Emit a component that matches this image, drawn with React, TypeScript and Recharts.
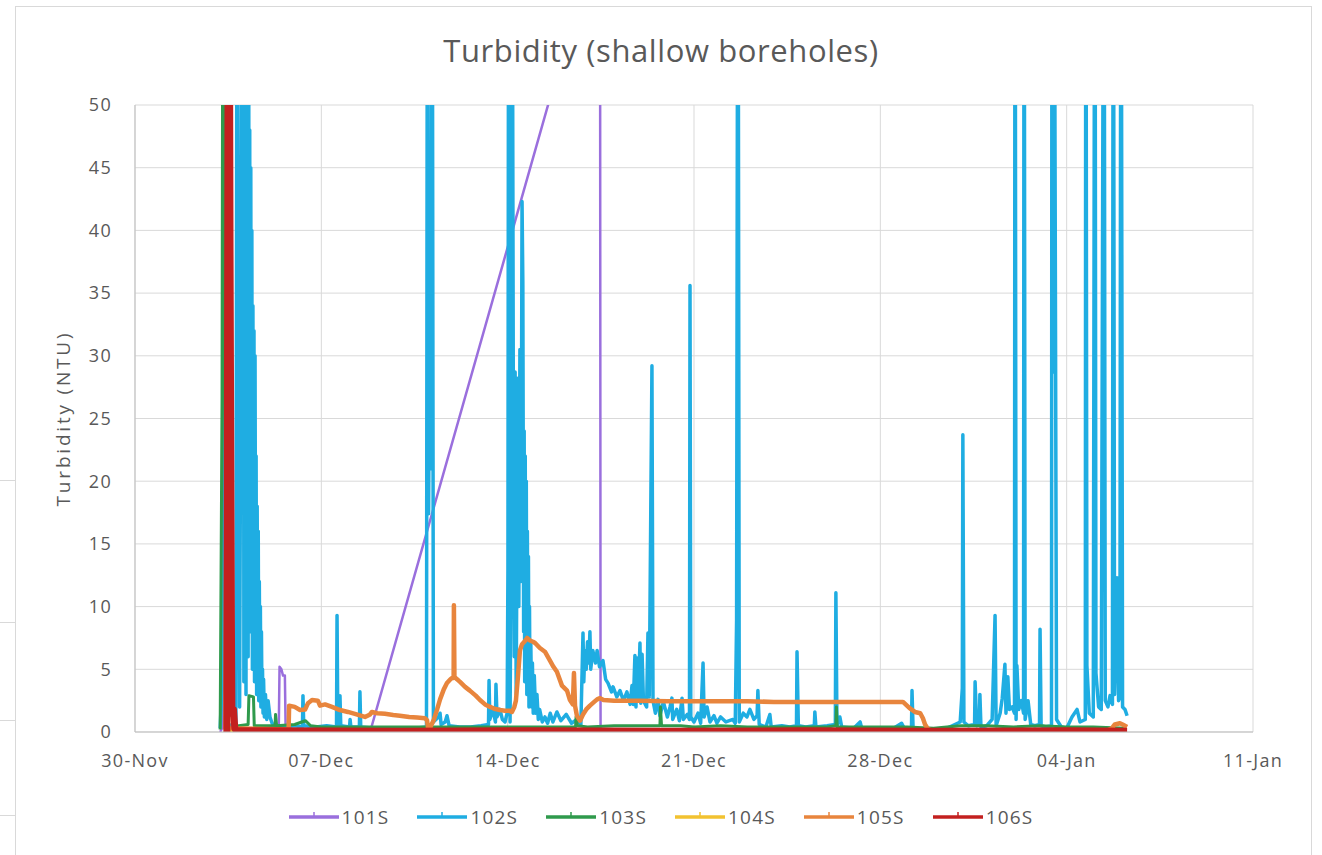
import React from 'react';
import { LineChart, Line, XAxis, YAxis, CartesianGrid, Label } from 'recharts';

// x = days since 30-Nov 00:00, y = turbidity (NTU)
const TICK_DAYS = [0, 7, 14, 21, 28, 35, 42];
const TICK_LABELS = ['30-Nov', '07-Dec', '14-Dec', '21-Dec', '28-Dec', '04-Jan', '11-Jan'];
const Y_TICKS = [0, 5, 10, 15, 20, 25, 30, 35, 40, 45, 50];
const SERIES_NAMES = ['101S', '102S', '103S', '104S', '105S', '106S'];

type Pt = [number, number];

const s101: Pt[] = [
  [3.2, 0], [3.27, 0.3], [3.31, 80], [3.38, 3.7], [3.42, 0.1], [3.8, 0.1],
  [5.4, 0.1], [5.43, 5.2], [5.5, 5.0], [5.56, 4.5], [5.63, 4.5], [5.66, 0.1],
  [8.83, 0], [17.47, 64.6], [17.49, 0.2], [20, 0.1], [30, 0.1], [37.2, 0.1],
];

const s102: Pt[] = [
  [3.2, 0.3], [3.27, 3.8], [3.34, 32.7], [3.4, 0.6], [3.79, 0.5],
  [3.84, 80], [3.9, 22], [3.93, 2], [3.96, 21], [3.99, 19.5], [4.03, 80],
  [4.05, 18], [4.07, 80], [4.09, 4], [4.11, 80], [4.13, 12], [4.15, 75], [4.17, 3],
  [4.19, 70], [4.21, 16], [4.23, 65], [4.25, 6], [4.27, 60], [4.29, 20], [4.31, 48],
  [4.33, 8], [4.35, 45], [4.37, 14], [4.39, 40], [4.41, 5], [4.43, 34], [4.45, 12],
  [4.47, 32], [4.49, 4], [4.51, 30], [4.53, 9], [4.55, 22], [4.57, 3], [4.59, 18],
  [4.61, 6], [4.63, 16], [4.65, 2.5], [4.67, 12], [4.69, 4], [4.71, 10], [4.73, 2],
  [4.75, 8], [4.77, 2.5], [4.79, 5], [4.81, 1.5], [4.83, 4.2], [4.86, 1.2], [4.9, 3],
  [4.95, 1], [5.0, 2.5], [5.07, 1.2], [5.15, 0.7], [5.26, 0.5],
  [5.6, 0.4], [6.0, 0.5], [6.29, 0.4], [6.31, 2.9], [6.34, 0.5], [6.8, 0.4], [7.2, 0.5],
  [7.57, 0.4], [7.59, 9.3], [7.62, 0.5], [7.68, 0.4], [7.7, 2.9], [7.73, 0.5],
  [8.06, 0.4], [8.08, 1.0], [8.11, 0.4], [8.43, 0.4], [8.45, 3.2], [8.48, 0.4],
  [9.0, 0.3], [9.5, 0.3], [10.0, 0.3], [10.5, 0.3], [10.95, 0.4],
  [10.99, 80], [11.03, 17.4], [11.06, 30.5], [11.09, 42], [11.13, 21], [11.16, 80], [11.21, 0.8],
  [11.4, 1.2], [11.46, 1.5], [11.5, 0.6], [11.65, 0.8], [11.72, 1.3], [11.8, 0.5],
  [12.2, 0.4], [12.6, 0.4], [13.0, 0.5],
  [13.28, 0.6], [13.3, 4.1], [13.33, 1.0], [13.45, 1.8], [13.54, 0.8], [13.56, 3.8],
  [13.6, 1.2], [13.71, 1.8], [13.8, 1.0], [13.9, 0.8],
  [13.98, 1.5], [14.01, 12.9], [14.04, 80], [14.09, 0.8], [14.13, 15.3], [14.16, 80],
  [14.21, 29], [14.25, 6], [14.28, 28.7], [14.32, 3], [14.38, 28.2], [14.42, 10],
  [14.46, 30.5], [14.5, 12], [14.54, 42.3], [14.57, 35.8], [14.6, 8], [14.62, 24],
  [14.64, 4], [14.66, 22], [14.68, 6], [14.7, 20], [14.72, 3], [14.74, 16], [14.76, 5],
  [14.78, 14], [14.8, 2], [14.82, 10], [14.84, 2.5], [14.87, 7], [14.9, 2], [14.93, 5.5],
  [14.96, 1.5], [15.0, 4.5], [15.05, 1.5], [15.1, 3], [15.15, 1], [15.2, 1.8],
  [15.3, 0.8], [15.4, 1.2], [15.5, 0.7], [15.6, 1.5], [15.7, 0.8], [15.85, 1.6],
  [16.0, 0.9], [16.2, 1.4], [16.4, 0.7], [16.6, 1.0], [16.75, 0.6],
  [16.83, 7.9], [16.86, 4], [16.9, 6.5], [16.95, 5], [17.0, 7.2], [17.05, 5.5], [17.09, 8.0],
  [17.12, 5], [17.2, 6.5], [17.3, 5.5], [17.36, 6.5], [17.45, 5.2], [17.58, 5.7],
  [17.68, 4.2], [17.77, 3.9], [17.9, 3.2], [17.96, 3.6], [18.1, 2.8], [18.22, 3.3],
  [18.35, 2.5], [18.48, 3.2], [18.6, 2.2], [18.67, 3.7], [18.72, 2.2], [18.78, 6.1],
  [18.82, 2.0], [18.86, 5.9], [18.9, 2.5], [18.97, 7.1], [19.0, 2.3], [19.05, 6.2],
  [19.1, 2.5], [19.22, 2.0], [19.27, 7.9], [19.32, 2.8], [19.42, 29.2], [19.46, 2.5],
  [19.55, 1.5], [19.65, 2.6], [19.72, 1.3], [19.85, 2.4], [20.0, 1.2], [20.1, 2.0],
  [20.17, 2.7], [20.2, 1.0], [20.35, 1.8], [20.45, 0.9], [20.55, 2.7], [20.6, 1.0],
  [20.75, 1.4], [20.83, 1.0], [20.85, 35.6], [20.88, 1.2], [21.0, 0.8], [21.15, 1.5],
  [21.25, 0.7], [21.34, 5.5], [21.38, 1.2], [21.49, 2.0], [21.6, 0.8], [21.75, 1.3],
  [21.86, 0.7], [22.0, 1.2], [22.2, 0.8], [22.46, 1.0], [22.55, 0.7], [22.6, 8.9],
  [22.65, 80], [22.7, 0.8], [22.85, 1.5], [22.99, 1.2], [23.1, 1.8], [23.25, 1.0],
  [23.37, 1.3], [23.4, 3.3], [23.45, 0.6], [23.7, 0.4], [23.85, 1.4], [23.9, 0.4],
  [24.3, 0.5], [24.6, 0.4], [24.85, 0.5], [24.87, 6.4], [24.92, 0.5], [25.2, 0.4],
  [25.52, 0.5], [25.54, 1.6], [25.58, 0.4], [26.0, 0.5], [26.31, 0.6], [26.33, 11.1],
  [26.37, 0.5], [26.48, 1.2], [26.55, 0.4], [27.0, 0.3], [27.24, 0.8], [27.3, 0.3],
  [28.0, 0.3], [28.5, 0.3], [28.8, 0.7], [28.9, 0.3], [29.17, 0.3], [29.19, 3.3],
  [29.23, 0.3], [29.6, 0.2], [30.0, 0.2], [30.5, 0.3],
  [30.8, 0.6], [31.0, 0.8], [31.08, 3.5], [31.1, 23.7], [31.14, 0.8], [31.3, 0.5],
  [31.54, 0.6], [31.56, 4.0], [31.62, 0.5], [31.72, 0.6], [31.74, 3.0], [31.78, 0.4],
  [32.0, 0.5], [32.2, 1.0], [32.31, 9.3], [32.35, 0.5], [32.5, 1.5], [32.58, 2.7],
  [32.68, 5.4], [32.72, 1.5], [32.79, 4.4], [32.85, 1.8], [32.95, 2.0], [33.04, 1.5],
  [33.06, 80], [33.1, 1.0], [33.13, 5.3], [33.2, 1.8], [33.3, 2.5], [33.38, 1.5],
  [33.4, 80], [33.44, 1.0], [33.55, 2.5], [33.65, 0.6], [33.8, 0.5], [33.98, 0.6],
  [34.0, 8.2], [34.04, 0.5], [34.2, 0.4], [34.43, 0.5], [34.45, 80], [34.5, 28.7],
  [34.53, 80], [34.56, 48.8], [34.62, 1.0], [34.8, 0.4], [35.0, 0.3], [35.2, 1.2],
  [35.39, 1.8], [35.5, 0.8], [35.7, 1.0], [35.72, 80], [35.76, 5.3], [35.85, 1.5],
  [36.0, 1.2], [36.06, 80], [36.1, 4.7], [36.2, 2.0], [36.3, 1.8], [36.4, 80],
  [36.45, 2.5], [36.55, 2.0], [36.63, 2.9], [36.72, 2.2], [36.75, 80], [36.8, 3.0],
  [36.89, 12.3], [36.95, 2.5], [37.0, 2.8], [37.04, 80], [37.1, 2.0], [37.19, 1.8],
  [37.27, 1.3],
];

const s103: Pt[] = [
  [3.2, 0.2], [3.27, 26.4], [3.31, 80], [3.36, 44.7], [3.42, 0.5], [3.6, 0.3], [3.9, 0.5],
  [4.25, 0.6], [4.28, 2.9], [4.45, 2.8], [4.48, 0.5], [5.0, 0.5], [5.26, 0.5], [5.28, 1.4],
  [5.32, 0.5], [6.0, 0.6], [6.4, 0.9], [6.6, 0.5], [7.0, 0.4], [8.0, 0.4], [9.0, 0.4],
  [10, 0.4], [11, 0.4], [12, 0.4], [13, 0.4], [14, 0.4], [15, 0.4], [16, 0.4], [16.55, 0.4],
  [16.57, 1.2], [16.62, 0.5], [17, 0.4], [18, 0.5], [19, 0.5], [19.72, 0.5], [19.74, 2.0],
  [19.78, 0.5], [20.5, 0.5], [21, 0.4], [22, 0.5], [23, 0.4], [24, 0.4], [25, 0.4], [26, 0.4],
  [26.33, 0.5], [26.35, 2.0], [26.38, 0.4], [27, 0.4], [28, 0.4], [29, 0.4], [30, 0.3],
  [31, 0.5], [32, 0.5], [33, 0.4], [34, 0.5], [35, 0.4], [36, 0.4], [37.2, 0.3],
];

const s104: Pt[] = [
  [3.5, 0.1], [10, 0.1], [20, 0.1], [30, 0.1], [37.2, 0.1],
];

const s105: Pt[] = [
  [3.4, 0.2], [3.45, 27], [3.5, 0.3], [5.77, 0.2], [5.79, 2.1], [6.0, 2.0], [6.2, 1.75],
  [6.39, 1.8], [6.5, 2.3], [6.65, 2.55], [6.87, 2.5], [6.95, 2.1], [7.14, 2.2], [7.4, 2.0],
  [7.7, 1.75], [8.0, 1.6], [8.26, 1.45], [8.64, 1.2], [8.83, 1.4], [8.9, 1.6], [9.1, 1.5],
  [9.39, 1.45], [9.7, 1.35], [9.95, 1.3], [10.3, 1.2], [10.6, 1.15], [10.89, 1.1],
  [10.97, 0.95], [11.01, 0.3], [11.1, 0.4], [11.23, 1.0], [11.35, 1.8], [11.46, 2.6],
  [11.6, 3.4], [11.72, 3.9], [11.85, 4.2], [11.91, 4.3], [11.97, 4.3], [11.98, 10.1],
  [12.0, 4.4], [12.1, 4.2], [12.21, 4.0], [12.4, 3.6], [12.58, 3.3], [12.8, 2.9],
  [12.96, 2.55], [13.15, 2.2], [13.34, 2.0], [13.5, 1.85], [13.71, 1.75], [13.9, 1.7],
  [14.05, 1.7], [14.16, 1.6], [14.25, 2.0], [14.31, 2.5], [14.39, 4.5], [14.46, 6.5],
  [14.54, 7.0], [14.65, 7.25], [14.73, 7.5], [14.84, 7.3], [14.95, 7.2], [15.03, 7.1],
  [15.21, 6.7], [15.4, 6.4], [15.59, 5.7], [15.72, 5.2], [15.85, 4.8], [16.04, 3.7],
  [16.23, 3.3], [16.34, 2.55], [16.45, 2.2], [16.49, 4.7], [16.53, 2.1], [16.6, 1.3],
  [16.72, 0.9], [16.83, 1.4], [16.95, 1.8], [17.09, 2.1], [17.25, 2.4], [17.36, 2.6],
  [17.47, 2.7], [17.6, 2.55], [18, 2.5], [19, 2.5], [20, 2.45], [21, 2.45], [22, 2.45],
  [23, 2.45], [24, 2.4], [25, 2.4], [26, 2.4], [27, 2.4], [28, 2.4], [28.85, 2.4],
  [29.0, 2.1], [29.1, 1.9], [29.3, 1.6], [29.5, 1.5], [29.6, 1.1], [29.68, 0.6],
  [29.8, 0.2], [30, 0.1], [32, 0.1], [34, 0.1], [36.5, 0.1], [36.7, 0.3], [36.81, 0.6],
  [37.0, 0.7], [37.1, 0.6], [37.27, 0.4],
];

const s106: Pt[] = [
  [3.45, 0], [3.52, 80], [3.57, 38.8], [3.6, 21], [3.62, 9.3], [3.64, 1.5], [3.7, 1.8],
  [3.75, 0.3], [3.8, 0.1], [5, 0.1], [10, 0.05], [15, 0.1], [20, 0.05], [25, 0.1],
  [30, 0.05], [35, 0.1], [37.27, 0.05],
];

const SERIES_POINTS = [s101, s102, s103, s104, s105, s106];
const COLORS = ['#9a6fdd', '#1fade2', '#2f9a4c', '#f2c230', '#e8853d', '#c3201f'];
const WIDTHS = [2.5, 3.5, 3, 3, 4.5, 7];

const TEXT = '#595959';
const GRID = '#d9d9d9';
const FONT = '"Open Sans", "Segoe UI", sans-serif';

const toRows = (pts: Pt[]) => pts.map(([x, y]) => ({ x, y }));

function LegendRow() {
  return (
    <div
      style={{
        position: 'absolute', top: 804, left: 0, width: 1322, display: 'flex',
        justifyContent: 'center', gap: 28, fontFamily: FONT, fontSize: 19,
        letterSpacing: 1.2, color: TEXT,
      }}
    >
      {SERIES_NAMES.map((name, i) => (
        <div key={name} style={{ display: 'flex', alignItems: 'center' }}>
          <svg width={50} height={12} style={{ marginRight: 3 }}>
            <line x1={0} y1={6} x2={50} y2={6} stroke={COLORS[i]} strokeWidth={3.5} />
            <line x1={25} y1={1} x2={25} y2={6} stroke={COLORS[i]} strokeWidth={1.5} />
          </svg>
          <span>{name}</span>
        </div>
      ))}
    </div>
  );
}

export default function App() {
  return (
    <div style={{ position: 'relative', width: 1322, height: 855, background: '#fff', overflow: 'hidden' }}>
      <style>{'body{margin:0}'}</style>
      {/* spreadsheet cell lines behind the chart */}
      {[480, 622, 720, 815].map((y) => (
        <div key={y} style={{ position: 'absolute', left: 0, top: y, width: 15, height: 1, background: GRID }} />
      ))}
      <div
        style={{
          position: 'absolute', left: 15, top: 6, width: 1297, height: 860,
          border: '1px solid #d9d9d9', boxSizing: 'border-box',
        }}
      />
      <div
        style={{
          position: 'absolute', top: 29, left: 0, width: 1322, textAlign: 'center',
          fontFamily: FONT, fontSize: 31, letterSpacing: 0.6, color: TEXT,
        }}
      >
        Turbidity (shallow boreholes)
      </div>
      <LineChart
        width={1322}
        height={855}
        margin={{ top: 105, right: 69, left: 30, bottom: 83 }}
        style={{ position: 'absolute', top: 0, left: 0 }}
      >
        <CartesianGrid stroke={GRID} strokeWidth={1} />
        <XAxis
          type="number"
          dataKey="x"
          domain={[0, 42]}
          ticks={TICK_DAYS}
          interval={0}
          allowDataOverflow
          tickFormatter={(v: number) => TICK_LABELS[TICK_DAYS.indexOf(v)]}
          tick={{ fill: TEXT, fontSize: 18, fontFamily: FONT, letterSpacing: 1.3 }}
          axisLine={{ stroke: '#bfbfbf' }}
          tickLine={false}
          tickMargin={16}
          height={40}
        />
        <YAxis
          type="number"
          domain={[0, 50]}
          ticks={Y_TICKS}
          interval={0}
          allowDataOverflow
          tick={{ fill: TEXT, fontSize: 18, fontFamily: FONT, letterSpacing: 1.3 }}
          axisLine={{ stroke: '#bfbfbf' }}
          tickLine={false}
          tickMargin={17}
          width={105}
        >
          <Label
            value="Turbidity (NTU)"
            angle={-90}
            position="insideLeft"
            offset={33}
            style={{ fill: TEXT, fontSize: 19, fontFamily: FONT, letterSpacing: 2.8, textAnchor: 'middle' }}
          />
        </YAxis>
        {SERIES_NAMES.map((name, i) => (
          <Line
            key={name}
            name={name}
            data={toRows(SERIES_POINTS[i])}
            dataKey="y"
            type="linear"
            stroke={COLORS[i]}
            strokeWidth={WIDTHS[i]}
            strokeLinejoin="round"
            dot={false}
            activeDot={false}
            isAnimationActive={false}
          />
        ))}
      </LineChart>
      <LegendRow />
    </div>
  );
}
